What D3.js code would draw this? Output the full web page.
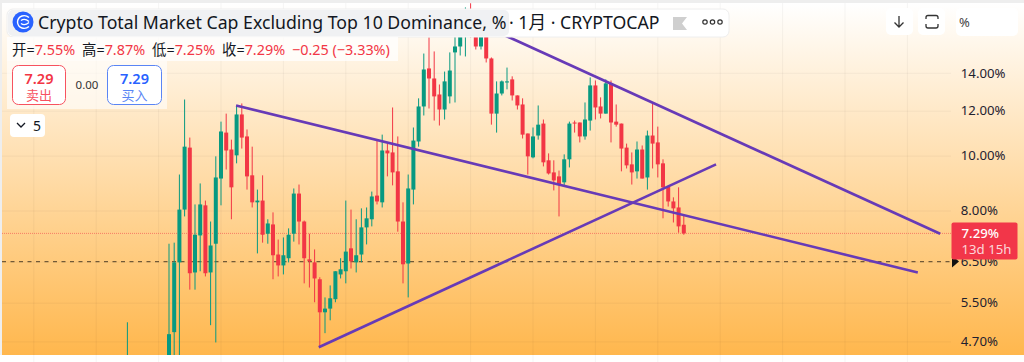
<!DOCTYPE html>
<html>
<head>
<meta charset="utf-8">
<script src="https://cdn.jsdelivr.net/npm/d3@7"></script>
<style>
html, body { margin: 0; padding: 0; background: #fff; overflow: hidden; }
svg { display: block; }
text { font-family: "Noto Sans", "Noto Sans CJK SC", sans-serif; }
</style>
</head>
<body>
<div id="chart"></div>
<script>
const width = 1024; const height = 362;

// monthly candles, nulls are months that sit below the visible range
const opens = [4.2,null,null,null,null,null,null,null,
  4.17,4.88,6.48,8.03,10.33,6.22,7.23,8.17,6.22,6.99,
  9.11,10.98,10.25,10.01,11.82,10.81,9.23,8.27,8.33,7.28,
  7.56,6.69,6.40,6.59,7.28,8.57,7.65,6.56,6.48,6.05,
  5.29,5.37,5.58,6.17,6.25,6.86,6.48,6.69,7.47,7.72,
  8.50,8.27,10.21,10.13,9.38,7.65,6.45,8.71,10.59,12.21,
  14.25,13.68,12.82,12.06,12.72,15.21,15.58,16.76,17.6,17.0,
  15.58,16.76,14.84,11.86,12.87,13.46,13.63,12.77,12.31,10.94,
  9.93,10.85,11.39,9.81,9.34,9.19,8.97,9.85,11.44,11.44,
  10.81,11.53,13.30,12.21,11.86,13.41,11.48,11.39,10.33,9.65,
  9.38,10.25,9.15,10.85,10.55,9.69,8.82,8.30,8.10,7.55];
const closes = [4.3,null,null,null,null,null,null,null,
  4.84,6.48,8.03,10.37,6.20,7.25,8.20,6.20,6.94,9.15,
  11.03,10.21,8.79,11.82,10.76,9.19,8.27,8.33,7.25,7.59,
  6.67,6.40,6.67,7.25,8.57,7.65,6.59,6.51,6.07,5.29,
  5.37,5.60,6.25,6.30,6.77,6.51,6.67,7.47,7.75,8.47,
  8.30,10.21,10.09,9.34,7.65,6.43,8.75,10.63,12.21,14.19,
  13.68,12.72,12.06,13.52,14.13,15.58,16.76,17.6,16.63,15.58,
  16.76,14.84,11.86,12.87,13.52,13.52,12.77,12.26,10.89,9.97,
  10.81,11.34,9.73,9.30,9.04,8.89,9.85,11.39,11.39,10.81,
  11.58,13.30,12.16,11.86,13.41,11.44,11.34,10.29,9.61,9.34,
  10.25,9.11,10.85,10.50,9.65,8.79,8.30,8.07,7.50,7.29];
const highs = [5.08,null,null,null,null,null,null,null,
  6.99,7.02,9.26,12.56,10.76,8.20,8.93,8.33,7.65,9.97,
  11.48,11.86,10.67,12.26,12.36,11.12,10.37,8.71,9.23,7.72,
  7.94,7.11,7.17,7.44,8.75,8.89,7.68,7.28,6.83,6.10,
  5.62,5.90,6.25,6.59,8.33,8.03,7.72,8.07,8.10,8.64,
  10.67,10.89,10.50,12.16,10.81,8.27,9.26,11.21,12.62,15.14,
  16.17,15.27,13.35,14.07,15.21,16.63,17.18,18.26,18.57,17.67,
  17.32,17.32,14.90,13.52,13.57,14.30,13.80,12.77,12.62,10.94,
  11.21,12.26,11.58,10.09,9.81,9.41,10.05,11.48,11.53,11.44,
  12.41,13.74,13.57,12.67,13.63,13.57,12.31,11.39,10.50,10.13,
  10.59,10.42,11.07,12.41,11.25,9.85,8.82,8.44,8.79,7.87];
const lows = [4.0,null,null,null,null,null,null,null,
  4.10,4.32,4.26,7.81,5.80,5.80,6.25,6.12,5.02,4.68,
  8.17,9.45,7.72,9.69,10.29,8.71,8.10,6.72,7.02,6.99,
  6.05,6.12,6.17,6.48,7.05,6.97,5.95,5.85,5.51,4.59,
  4.86,5.12,5.51,6.07,5.95,6.32,6.22,6.48,6.97,7.50,
  8.20,8.10,9.19,8.86,7.34,5.95,5.62,8.20,10.37,11.77,
  12.11,11.53,11.30,11.58,12.36,12.41,15.02,14.96,16.17,15.39,
  15.39,14.60,11.34,10.98,12.77,13.09,12.51,12.06,10.72,9.26,
  9.89,10.67,9.57,9.26,8.68,7.81,8.86,9.53,10.98,10.55,
  10.67,11.07,11.58,11.63,11.86,10.55,11.25,9.38,9.49,8.89,
  9.11,9.11,8.71,9.49,9.15,7.75,8.13,7.62,7.31,7.25];

const tickValues = [14, 12, 10, 8, 6.5, 5.5, 4.7];
const yearMarks = [-18, -6, 6, 18, 30, 42, 54, 66, 78, 90, 102, 114, 126, 138, 150];
const lastPrice = 7.29;
const alertPrice = 6.5;
// trend lines, [candle index, percent] at each end
const trendA = [[20.9, 12.26], [152.0, 6.22]];
const trendB = [[36.8, 4.59], [113.2, 9.65]];
const trendC = [[69.7, 16.76], [156.3, 7.28]];

const ohlcLabels = ["开=", "高=", "低=", "收="];
const ohlcValues = ["7.55%", "7.87%", "7.25%", "7.29%"];
const ohlcX = [12, 82, 152, 222];

const red = "#f23645"; const green = "#089981"; const purple = "#673ab7";

const x = d3.scaleLinear().domain([0, 107]).range([127.4, 683.8]);
const y = d3.scaleLog().domain([4.7, 14]).range([341.4, 72.8]);

let svg = d3.select("#chart").append("svg")
    .attr("width", width)
    .attr("height", height);

let defs = svg.append("defs");
let grad = defs.append("linearGradient")
    .attr("id", "bg").attr("x1", 0).attr("x2", 0).attr("y1", 0).attr("y2", 1);
grad.append("stop").attr("offset", "0%").attr("stop-color", "#ffffff");
grad.append("stop").attr("offset", "100%").attr("stop-color", "#ffb74d");
defs.append("clipPath").attr("id", "plot")
    .append("rect").attr("x", 2).attr("y", 3).attr("width", 949).attr("height", 352);

// page frame and background
svg.append("rect").attr("width", width).attr("height", height).attr("fill", "#fff");
svg.append("rect").attr("width", width).attr("height", 3).attr("fill", "#eeeeee");
svg.append("rect").attr("width", 2).attr("height", 355).attr("fill", "#eeeeee");
svg.append("path")
    .attr("d", "M2,3H1018Q1024,3 1024,9V355H2Z")
    .attr("fill", "url(#bg)");

// grid
svg.append("g").selectAll("line")
    .data(yearMarks)
    .join("line")
        .attr("x1", d => x(d)).attr("x2", d => x(d))
        .attr("y1", 3).attr("y2", height)
        .attr("stroke", "#000").attr("stroke-opacity", 0.045);

let yAxis = d3.axisRight(y)
    .tickValues(tickValues)
    .tickSize(949)
    .tickFormat(d => d.toFixed(2) + "%");
let yG = svg.append("g")
    .attr("transform", "translate(2,0)")
    .call(yAxis);
yG.select(".domain").remove();
yG.selectAll(".tick line").attr("stroke", "#000").attr("stroke-opacity", 0.045);
yG.selectAll(".tick text")
    .attr("x", 958.8)
    .attr("font-size", 13.2)
    .attr("fill", "#1f2230")
    .style("font-family", '"Noto Sans", sans-serif');

// candles
const candles = opens.map((o, i) => ({i: i, o: o, h: highs[i], l: lows[i], c: closes[i]}))
    .filter(d => d.o !== null);
const candleColor = d => d.c >= d.o ? green : red;

let plotG = svg.append("g").attr("clip-path", "url(#plot)");

// price lines
plotG.append("line")
    .attr("x1", 2).attr("x2", 951)
    .attr("y1", y(lastPrice)).attr("y2", y(lastPrice))
    .attr("stroke", red).attr("stroke-opacity", 0.55).attr("stroke-dasharray", "1 1");
plotG.append("line")
    .attr("x1", 2).attr("x2", 951)
    .attr("y1", y(alertPrice)).attr("y2", y(alertPrice))
    .attr("stroke", "#000").attr("stroke-opacity", 0.55).attr("stroke-width", 1.3)
    .attr("stroke-dasharray", "4 4.5");

plotG.selectAll(".wick")
    .data(candles)
    .join("line")
        .attr("class", "wick")
        .attr("x1", d => x(d.i)).attr("x2", d => x(d.i))
        .attr("y1", d => y(d.h)).attr("y2", d => y(d.l))
        .attr("stroke", candleColor)
        .attr("stroke-width", 1);

plotG.selectAll(".body")
    .data(candles)
    .join("rect")
        .attr("class", "body")
        .attr("x", d => x(d.i) - 2)
        .attr("width", 4)
        .attr("y", d => y(Math.max(d.o, d.c)))
        .attr("height", d => Math.max(1, Math.abs(y(d.o) - y(d.c))))
        .attr("fill", candleColor);

// trend lines
const trendLine = d3.line().x(d => x(d[0])).y(d => y(d[1]));
plotG.selectAll(".trend")
    .data([trendA, trendB, trendC])
    .join("path")
        .attr("class", "trend")
        .attr("d", trendLine)
        .attr("fill", "none")
        .attr("stroke", purple)
        .attr("stroke-width", 2.6);

// last price label and alert marker
svg.append("path")
    .attr("d", `M952,${y(alertPrice) - 6}L959,${y(alertPrice)}L952,${y(alertPrice) + 6}Z`)
    .attr("fill", "#111");
svg.append("rect")
    .attr("x", 951.5).attr("y", 222.5).attr("width", 66).attr("height", 37).attr("rx", 2)
    .attr("fill", "#f23649");
svg.append("text").attr("x", 961.5).attr("y", 238)
    .attr("font-size", 13.2).attr("font-weight", 500).attr("fill", "#fff").text("7.29%");
svg.append("text").attr("x", 961.5).attr("y", 254)
    .attr("font-size", 13.2).attr("fill", "#fff").attr("fill-opacity", 0.8).text("13d 15h");

// header
svg.append("rect").attr("x", 7).attr("y", 9).attr("width", 722).attr("height", 28).attr("rx", 6)
    .attr("fill", "#fff").attr("stroke", "#eeeeee");
svg.append("rect").attr("x", 8).attr("y", 10).attr("width", 501).attr("height", 26).attr("rx", 5)
    .attr("fill", "#f0f1f3");
svg.append("circle").attr("cx", 23).attr("cy", 22).attr("r", 10.5).attr("fill", "#2962ff");
svg.append("path")
    .attr("d", "M29,17.5C25,14 18,15.5 17.5,22C18,28.5 25,30 29,26.5M21,20.5C23,19 26,19 29,21.5M21,23.5C23,25 26,25 29,22.5")
    .attr("fill", "none").attr("stroke", "#fff").attr("stroke-width", 1.4);
svg.append("text").attr("x", 38).attr("y", 29)
    .attr("font-size", 17.7).attr("fill", "#131722")
    .text("Crypto Total Market Cap Excluding Top 10 Dominance, %");
svg.append("text").attr("x", 509).attr("y", 29)
    .attr("font-size", 17.7).attr("fill", "#131722")
    .text("· 1月 · CRYPTOCAP");
svg.append("path").attr("d", "M673,17H687L682,23.5L687,30H673Z").attr("fill", "#cfcfcf");
svg.append("g").selectAll("circle")
    .data([705, 712.5, 720])
    .join("circle")
        .attr("cx", d => d).attr("cy", 22).attr("r", 2.2)
        .attr("fill", "none").attr("stroke", "#333").attr("stroke-width", 1.2);

// OHLC strip
svg.append("rect").attr("x", 7).attr("y", 37).attr("width", 391).attr("height", 24)
    .attr("fill", "#fff").attr("fill-opacity", 0.75);
let ohlc = svg.append("g").selectAll("g")
    .data(ohlcLabels)
    .join("text")
        .attr("x", (d, i) => ohlcX[i]).attr("y", 55)
        .attr("font-size", 14.4)
        .attr("fill", "#131722")
        .text(d => d);
ohlc.append("tspan").attr("fill", red).text((d, i) => ohlcValues[i]);
svg.append("text").attr("x", 292).attr("y", 55)
    .attr("font-size", 14.4).attr("fill", red)
    .text("−0.25 (−3.33%)");

// buy and sell boxes
svg.append("rect").attr("x", 7).attr("y", 61).attr("width", 160).attr("height", 48)
    .attr("fill", "#fff").attr("fill-opacity", 0.6);
svg.append("rect").attr("x", 12.5).attr("y", 65.5).attr("width", 53).attr("height", 39).attr("rx", 6)
    .attr("fill", "#fff").attr("stroke", "#f7525f");
svg.append("rect").attr("x", 107.5).attr("y", 65.5).attr("width", 54).attr("height", 39).attr("rx", 6)
    .attr("fill", "#fff").attr("stroke", "#5a85f5");
svg.append("text").attr("x", 39).attr("y", 83.5).attr("text-anchor", "middle")
    .attr("font-size", 14.5).attr("font-weight", 600).attr("fill", red).text("7.29");
svg.append("text").attr("x", 39).attr("y", 100).attr("text-anchor", "middle")
    .attr("font-size", 13).attr("fill", "#f7525f").text("卖出");
svg.append("text").attr("x", 134.5).attr("y", 83.5).attr("text-anchor", "middle")
    .attr("font-size", 14.5).attr("font-weight", 600).attr("fill", "#2962ff").text("7.29");
svg.append("text").attr("x", 134.5).attr("y", 100).attr("text-anchor", "middle")
    .attr("font-size", 13).attr("fill", "#5a85f5").text("买入");
svg.append("text").attr("x", 87).attr("y", 89).attr("text-anchor", "middle")
    .attr("font-size", 11.5).attr("fill", "#333").text("0.00");

// collapse button
svg.append("rect").attr("x", 10).attr("y", 114).attr("width", 35).attr("height", 23).attr("rx", 4)
    .attr("fill", "#fff");
svg.append("path").attr("d", "M17,123L21,127L25,123")
    .attr("fill", "none").attr("stroke", "#131722").attr("stroke-width", 1.3);
svg.append("text").attr("x", 33).attr("y", 131)
    .attr("font-size", 14).attr("fill", "#131722").text("5");

// right side buttons
svg.append("rect").attr("x", 886).attr("y", 8).attr("width", 27).attr("height", 27).attr("rx", 5).attr("fill", "#fff");
svg.append("rect").attr("x", 918).attr("y", 8).attr("width", 27).attr("height", 27).attr("rx", 5).attr("fill", "#fff");
svg.append("rect").attr("x", 956).attr("y", 8).attr("width", 62).attr("height", 28).attr("rx", 5).attr("fill", "#fff");
svg.append("path").attr("d", "M899,16V27M894.5,22.5L899,27L903.5,22.5")
    .attr("fill", "none").attr("stroke", "#333").attr("stroke-width", 1.3);
svg.append("path").attr("d", "M926,19V17.5Q926,15.5 928,15.5H936Q938,15.5 938,17.5V19M926,24V26Q926,28 928,28H936Q938,28 938,26V24")
    .attr("fill", "none").attr("stroke", "#333").attr("stroke-width", 1.3);
svg.append("text").attr("x", 959).attr("y", 27)
    .attr("font-size", 13).attr("fill", "#444").text("%");
</script>
</body>
</html>
